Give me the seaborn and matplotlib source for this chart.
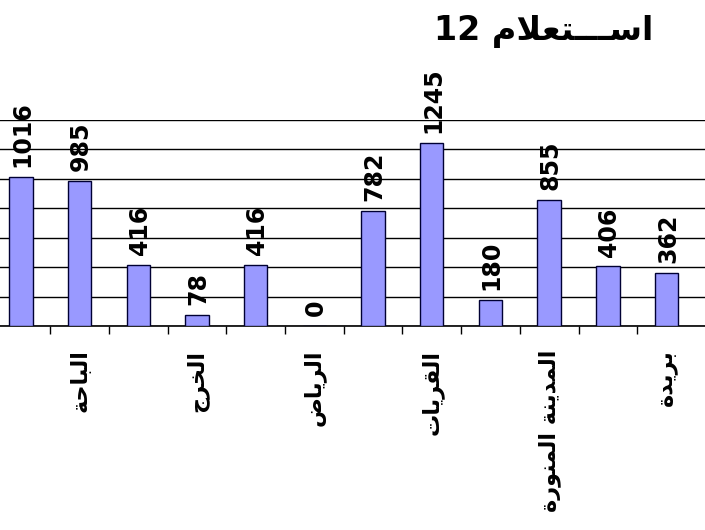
import numpy as np
import seaborn as sns
import matplotlib.pyplot as plt

# data (only every other category name is printed)
categories = ["", "الباحة", "", "الخرج", "", "الرياض", "",
              "القريات", "", "المدينة المنورة", "", "بريدة"]
values = [1016, 985, 416, 78, 416, 0, 782, 1245, 180, 855, 406, 362]
title_word = "اســـتعلام"
title_num = "12"
y_ticks = [0, 200, 400, 600, 800, 1000, 1200, 1400]

# small arabic shaper: (isolated, final, initial, medial), None = no forward join
FORMS = {
    "ا": (0xFE8D, 0xFE8E, None, None), "ب": (0xFE8F, 0xFE90, 0xFE91, 0xFE92),
    "ة": (0xFE93, 0xFE94, None, None), "ت": (0xFE95, 0xFE96, 0xFE97, 0xFE98),
    "ج": (0xFE9D, 0xFE9E, 0xFE9F, 0xFEA0), "ح": (0xFEA1, 0xFEA2, 0xFEA3, 0xFEA4),
    "خ": (0xFEA5, 0xFEA6, 0xFEA7, 0xFEA8), "د": (0xFEA9, 0xFEAA, None, None),
    "ر": (0xFEAD, 0xFEAE, None, None), "س": (0xFEB1, 0xFEB2, 0xFEB3, 0xFEB4),
    "ض": (0xFEBD, 0xFEBE, 0xFEBF, 0xFEC0), "ع": (0xFEC9, 0xFECA, 0xFECB, 0xFECC),
    "ق": (0xFED5, 0xFED6, 0xFED7, 0xFED8), "ل": (0xFEDD, 0xFEDE, 0xFEDF, 0xFEE0),
    "م": (0xFEE1, 0xFEE2, 0xFEE3, 0xFEE4), "ن": (0xFEE5, 0xFEE6, 0xFEE7, 0xFEE8),
    "و": (0xFEED, 0xFEEE, None, None), "ي": (0xFEF1, 0xFEF2, 0xFEF3, 0xFEF4),
    "ـ": (0x640, 0x640, 0x640, 0x640),
}


def joins_forward(c):
    return c in FORMS and FORMS[c][2] is not None


def shape(text):
    out = []
    i = 0
    while i < len(text):
        c = text[i]
        if c not in FORMS:
            out.append(c)
            i += 1
            continue
        prev = i > 0 and joins_forward(text[i - 1])
        if c == "ل" and i + 1 < len(text) and text[i + 1] == "ا":
            out.append(chr(0xFEFC if prev else 0xFEFB))
            i += 2
            continue
        nxt = joins_forward(c) and i + 1 < len(text) and text[i + 1] in FORMS
        iso, fin, ini, med = FORMS[c]
        if prev and nxt:
            out.append(chr(med))
        elif prev:
            out.append(chr(fin))
        elif nxt:
            out.append(chr(ini))
        else:
            out.append(chr(iso))
        i += 1
    return "".join(out)[::-1]


plt.rcParams["font.family"] = ["DejaVu Sans"]

fig = plt.figure(figsize=(7.05, 5.3), dpi=100)
W, H = 705, 530
x0, x1 = -8.5, 714
y0, y1 = 326, 120
ax = fig.add_axes([x0 / W, (H - y0) / H, (x1 - x0) / W, (y0 - y1) / H])

sns.barplot(x=np.arange(len(values)), y=values, color="#9999FF", saturation=1,
            width=0.4, edgecolor="#000033", linewidth=1, ax=ax, zorder=3)

ax.set_xlim(-0.5, -0.5 + (x1 - x0) / 58.7)
ax.set_ylim(0, 1400)
ax.set_yticks(y_ticks)
ax.yaxis.grid(True, color="black", linewidth=1)
ax.set_axisbelow(True)
ax.tick_params(axis="y", left=False, labelleft=False)
for s in ["top", "right", "left"]:
    ax.spines[s].set_visible(False)
ax.spines["bottom"].set_linewidth(1.2)

# ticks between categories, names under the bars
ax.set_xticks(np.arange(len(values)) - 0.5)
ax.set_xticklabels([])
ax.tick_params(axis="x", which="major", length=6, width=1, direction="out")
ax.set_xticks(np.arange(len(values)), minor=True)
ax.set_xticklabels([shape(c) for c in categories], minor=True, rotation=90,
                   fontsize=16, fontweight="bold")
ax.tick_params(axis="x", which="minor", length=0, pad=17)
ax.set_xlabel("")

for i, v in enumerate(values):
    ax.annotate(str(v), (i, v), xytext=(1, 7), textcoords="offset points",
                rotation=90, ha="center", va="bottom", fontsize=17,
                fontweight="bold")

fig.text(544 / W, (H - 32) / H, title_num + " " + shape(title_word),
         ha="center", va="center", fontsize=24, fontweight="bold")

plt.savefig("out.png", dpi=100)
